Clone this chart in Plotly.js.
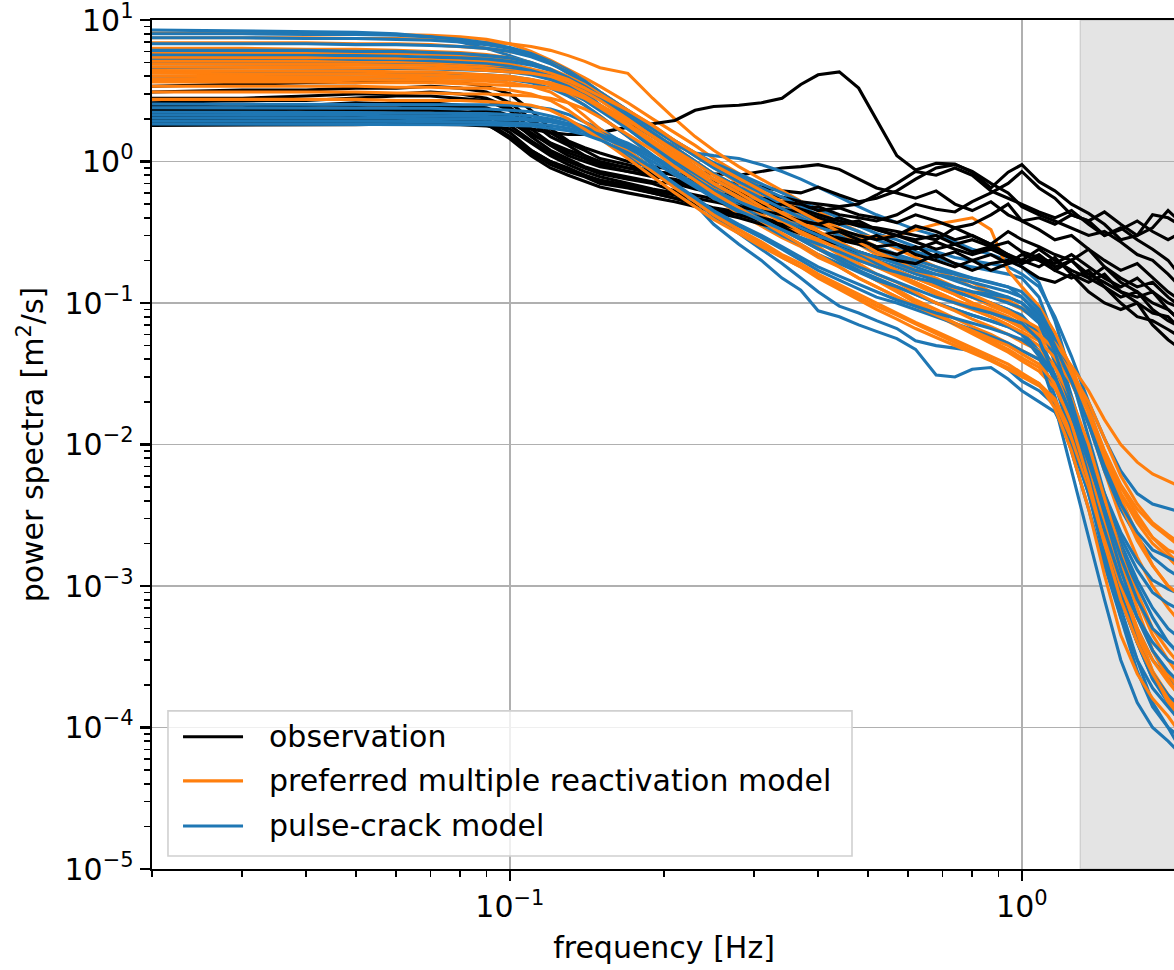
<!DOCTYPE html>
<html>
<head>
<meta charset="utf-8">
<script src="https://cdn.plot.ly/plotly-3.0.1.min.js"></script>
<style>
  html, body { margin: 0; padding: 0; background: #ffffff; overflow: hidden; }
  #chart { width: 1180px; height: 970px; }
</style>
</head>
<body>
<div id="chart"></div>
<script>
// ---------------- DATA ----------------
// frequency grid [Hz]
const freq = [0.02,0.03,0.04,0.05,0.06,0.07,0.08,0.09,
  0.1,0.11,0.12,0.13,0.14,0.15,0.17,0.19,
  0.21,0.23,0.25,0.28,0.31,0.34,0.37,0.4,
  0.44,0.48,0.52,0.57,0.62,0.68,0.74,0.8,
  0.87,0.94,1.0,1.08,1.16,1.25,1.35,1.45,
  1.56,1.68,1.8,1.93,2.0];

// observation power spectra [m^2/s]
const obs01 = [3.4,3.5,3.6,3.6,3.7,3.7,3.6,3.4, 3.0,2.3,1.7,1.4,1.25,1.15,1.0,0.92, 0.88,0.85,0.82,0.8,0.85,0.9,0.92,0.95, 0.88,0.75,0.65,0.6,0.55,0.62,0.5,0.45, 0.52,0.42,0.38,0.4,0.36,0.42,0.38,0.44, 0.36,0.3,0.34,0.45,0.4];
const obs02 = [3.1,3.2,3.2,3.3,3.3,3.4,3.3,3.1, 2.6,2.0,1.6,1.35,1.2,1.05,0.95,0.85, 0.82,0.78,0.72,0.7,0.66,0.62,0.6,0.66, 0.58,0.52,0.55,0.62,0.75,0.9,0.95,0.85, 0.7,0.6,0.48,0.42,0.38,0.34,0.3,0.32, 0.27,0.22,0.2,0.16,0.14];
const obs03 = [2.8,2.8,2.9,3.0,3.0,3.1,3.0,2.8, 2.4,1.9,1.5,1.3,1.1,0.98,0.9,0.86, 0.8,0.72,0.68,0.62,0.58,0.56,0.52,0.5, 0.48,0.5,0.58,0.7,0.85,0.8,0.9,0.8, 0.62,0.55,0.5,0.44,0.4,0.45,0.36,0.3, 0.33,0.38,0.32,0.28,0.3];
const obs04 = [2.6,2.7,2.7,2.8,2.9,2.9,2.8,2.7, 2.3,1.7,1.35,1.15,1.05,0.95,0.85,0.8, 0.74,0.7,0.65,0.58,0.55,0.5,0.46,0.48, 0.42,0.4,0.38,0.42,0.5,0.46,0.44,0.52, 0.6,0.7,0.85,0.65,0.55,0.42,0.38,0.3, 0.34,0.28,0.24,0.2,0.17];
const obs05 = [2.5,2.55,2.5,2.6,2.55,2.5,2.45,2.2, 1.85,1.7,1.6,1.55,1.55,1.6,1.75,1.85, 1.95,2.3,2.45,2.5,2.6,2.8,3.5,4.1, 4.3,3.3,2.0,1.1,0.87,0.97,0.96,0.84, 0.65,0.84,0.95,0.72,0.62,0.5,0.43,0.36, 0.28,0.3,0.42,0.4,0.37];
const obs06 = [2.4,2.4,2.5,2.5,2.6,2.6,2.5,2.4, 2.1,1.6,1.3,1.1,1.0,0.92,0.85,0.78, 0.75,0.68,0.62,0.6,0.55,0.52,0.5,0.45, 0.47,0.42,0.4,0.37,0.42,0.38,0.34,0.36, 0.42,0.5,0.38,0.33,0.28,0.3,0.24,0.2, 0.17,0.19,0.15,0.12,0.11];
const obs07 = [2.3,2.3,2.35,2.4,2.4,2.45,2.4,2.3, 2.0,1.5,1.2,1.05,0.92,0.85,0.78,0.72, 0.7,0.64,0.6,0.56,0.5,0.46,0.44,0.4, 0.36,0.38,0.33,0.3,0.35,0.32,0.28,0.3, 0.26,0.32,0.28,0.25,0.22,0.2,0.24,0.18, 0.15,0.13,0.14,0.11,0.1];
const obs08 = [2.2,2.2,2.25,2.3,2.3,2.3,2.25,2.2, 1.9,1.55,1.35,1.2,1.1,1.0,0.9,0.82, 0.72,0.66,0.6,0.52,0.48,0.5,0.46,0.42, 0.38,0.35,0.34,0.32,0.3,0.28,0.34,0.3, 0.26,0.22,0.2,0.24,0.2,0.17,0.15,0.18, 0.14,0.12,0.1,0.09,0.08];
const obs09 = [2.1,2.1,2.1,2.15,2.2,2.2,2.15,2.1, 1.8,1.4,1.15,1.0,0.9,0.82,0.75,0.7, 0.62,0.58,0.55,0.5,0.44,0.4,0.38,0.36, 0.33,0.3,0.28,0.3,0.27,0.24,0.26,0.23, 0.25,0.22,0.19,0.21,0.17,0.2,0.15,0.13, 0.11,0.12,0.09,0.075,0.07];
const obs10 = [2.0,2.0,2.0,2.05,2.1,2.1,2.05,2.0, 1.6,1.2,1.0,0.9,0.8,0.74,0.68,0.62, 0.58,0.52,0.47,0.44,0.4,0.37,0.34,0.3, 0.28,0.26,0.24,0.22,0.25,0.21,0.23,0.2, 0.22,0.19,0.2,0.18,0.21,0.16,0.14,0.16, 0.12,0.1,0.085,0.08,0.07];
const obs11 = [1.95,1.95,1.95,1.98,2.0,2.0,1.98,1.9, 1.5,1.15,0.95,0.85,0.78,0.7,0.65,0.6, 0.55,0.5,0.46,0.42,0.38,0.35,0.32,0.3, 0.32,0.28,0.25,0.26,0.22,0.2,0.18,0.2, 0.17,0.19,0.22,0.2,0.17,0.15,0.17,0.13, 0.1,0.08,0.075,0.065,0.06];
const obs12 = [1.9,1.9,1.9,1.9,1.92,1.92,1.9,1.85, 1.45,1.1,0.9,0.8,0.72,0.66,0.6,0.56, 0.52,0.48,0.44,0.4,0.36,0.34,0.31,0.28, 0.26,0.23,0.21,0.2,0.19,0.22,0.19,0.17, 0.19,0.2,0.18,0.15,0.14,0.16,0.12,0.1, 0.09,0.1,0.07,0.055,0.05];
const obs13 = [1.85,1.85,1.85,1.86,1.88,1.88,1.86,1.82, 1.5,1.2,1.0,0.88,0.8,0.72,0.66,0.6, 0.55,0.5,0.45,0.42,0.38,0.36,0.33,0.31, 0.29,0.27,0.3,0.26,0.24,0.27,0.24,0.22, 0.24,0.21,0.19,0.22,0.18,0.2,0.16,0.14, 0.12,0.11,0.12,0.09,0.08];
const obs14 = [1.8,1.8,1.8,1.82,1.84,1.84,1.82,1.78, 1.7,1.35,1.1,0.95,0.85,0.78,0.7,0.64, 0.6,0.55,0.52,0.48,0.45,0.42,0.38,0.36, 0.4,0.36,0.33,0.3,0.28,0.3,0.26,0.28, 0.25,0.27,0.23,0.21,0.19,0.22,0.18,0.15, 0.13,0.15,0.12,0.1,0.095];

// preferred multiple reactivation model
const pref01 = [8.1,8.1,8.0,8.0,7.9,7.8,7.6,7.3, 6.8,6.0,5.2,4.5,3.9,3.4,2.6,2.0, 1.6,1.3,1.05,0.82,0.66,0.55,0.47,0.4, 0.34,0.29,0.25,0.22,0.19,0.17,0.15,0.13, 0.115,0.1,0.09,0.075,0.05,0.028,0.014,0.0065, 0.003,0.0016,0.001,0.0007,0.0006];
const pref02 = [7.5,7.5,7.5,7.4,7.4,7.3,7.1,6.9, 6.8,6.5,6.1,5.6,5.1,4.6,4.2,2.8, 2.0,1.5,1.2,0.92,0.75,0.62,0.52,0.45, 0.37,0.32,0.28,0.24,0.21,0.18,0.16,0.14, 0.12,0.105,0.092,0.078,0.058,0.035,0.018,0.009, 0.005,0.0032,0.0022,0.0017,0.0015];
const pref03 = [6.9,6.9,6.9,6.8,6.8,6.7,6.5,6.3, 6.0,5.6,5.0,4.3,3.7,3.1,2.3,1.75, 1.35,1.1,0.9,0.7,0.57,0.48,0.41,0.35, 0.3,0.26,0.22,0.19,0.165,0.145,0.125,0.11, 0.095,0.085,0.075,0.064,0.05,0.032,0.017,0.0085, 0.0045,0.003,0.0022,0.0018,0.0017];
const pref04 = [6.3,6.3,6.2,6.2,6.1,6.0,5.9,5.7, 5.4,5.0,4.5,3.9,3.3,2.8,2.1,1.6, 1.25,1.0,0.8,0.62,0.5,0.42,0.36,0.31, 0.26,0.22,0.19,0.16,0.14,0.12,0.105,0.092, 0.08,0.07,0.06,0.05,0.036,0.02,0.009,0.004, 0.0018,0.0009,0.0005,0.00035,0.0003];
const pref05 = [5.9,5.9,5.9,5.8,5.8,5.7,5.6,5.4, 5.2,4.9,4.5,4.0,3.5,3.0,2.3,1.8, 1.4,1.15,0.95,0.72,0.55,0.44,0.38,0.34, 0.32,0.3,0.29,0.3,0.33,0.36,0.38,0.4, 0.33,0.17,0.13,0.095,0.062,0.034,0.017,0.0085, 0.0045,0.0028,0.002,0.0016,0.0014];
const pref06 = [5.65,5.6,5.6,5.5,5.5,5.4,5.3,5.1, 4.9,4.5,4.0,3.4,2.9,2.4,1.8,1.35, 1.05,0.85,0.68,0.52,0.42,0.35,0.29,0.25, 0.2,0.17,0.145,0.125,0.105,0.09,0.078,0.068, 0.06,0.052,0.046,0.04,0.031,0.018,0.008,0.0035, 0.0015,0.0007,0.00035,0.00022,0.00018];
const pref07 = [5.4,5.4,5.4,5.3,5.3,5.2,5.1,4.9, 4.7,4.5,4.2,3.8,3.3,2.8,2.1,1.6, 1.25,1.0,0.82,0.64,0.52,0.43,0.37,0.32, 0.27,0.23,0.2,0.17,0.15,0.13,0.115,0.1, 0.088,0.078,0.068,0.058,0.046,0.03,0.017,0.0085, 0.0042,0.0023,0.0014,0.001,0.0009];
const pref08 = [5.1,5.1,5.1,5.0,5.0,4.9,4.8,4.7, 4.5,4.2,3.8,3.3,2.8,2.4,1.75,1.3, 1.0,0.8,0.64,0.5,0.4,0.33,0.28,0.24, 0.2,0.17,0.145,0.12,0.1,0.085,0.072,0.062, 0.054,0.047,0.041,0.035,0.026,0.015,0.0068,0.0028, 0.0011,0.0005,0.00025,0.00015,0.00012];
const pref09 = [4.9,4.9,4.9,4.85,4.8,4.8,4.7,4.6, 4.4,4.2,3.9,3.5,3.1,2.7,2.0,1.5, 1.15,0.92,0.75,0.6,0.48,0.4,0.34,0.29, 0.25,0.21,0.18,0.16,0.14,0.12,0.105,0.095, 0.085,0.075,0.066,0.057,0.045,0.03,0.017,0.009, 0.0052,0.0035,0.0027,0.0022,0.002];
const pref10 = [4.65,4.65,4.6,4.6,4.6,4.55,4.5,4.4, 4.3,4.2,4.0,3.7,3.3,2.9,2.3,1.8, 1.4,1.15,0.95,0.76,0.62,0.52,0.44,0.38, 0.32,0.27,0.23,0.2,0.17,0.15,0.13,0.115, 0.1,0.088,0.077,0.066,0.052,0.036,0.024,0.015, 0.01,0.0075,0.0062,0.0055,0.0052];
const pref11 = [4.4,4.4,4.4,4.35,4.3,4.3,4.2,4.1, 4.0,3.8,3.5,3.0,2.5,2.1,1.5,1.1, 0.85,0.68,0.55,0.43,0.35,0.29,0.25,0.21, 0.18,0.15,0.13,0.11,0.095,0.082,0.07,0.06, 0.052,0.045,0.039,0.033,0.025,0.015,0.007,0.003, 0.0013,0.0006,0.00035,0.00024,0.0002];
const pref12 = [4.2,4.2,4.2,4.15,4.1,4.1,4.0,4.0, 3.9,3.8,3.6,3.3,2.9,2.5,1.85,1.4, 1.1,0.88,0.7,0.55,0.45,0.37,0.31,0.27, 0.22,0.19,0.16,0.14,0.12,0.1,0.088,0.077, 0.068,0.06,0.053,0.046,0.035,0.021,0.01,0.0042, 0.0017,0.0008,0.00045,0.0003,0.00025];
const pref13 = [4.0,4.0,4.0,3.95,3.95,3.9,3.9,3.85, 3.8,3.7,3.5,3.2,2.8,2.4,1.8,1.35, 1.05,0.85,0.7,0.56,0.46,0.38,0.32,0.28, 0.24,0.2,0.18,0.155,0.135,0.115,0.1,0.09, 0.08,0.07,0.062,0.054,0.041,0.027,0.015,0.0075, 0.0038,0.0021,0.0014,0.001,0.0009];
const pref14 = [3.8,3.8,3.8,3.8,3.75,3.75,3.7,3.7, 3.6,3.4,3.1,2.6,2.1,1.7,1.2,0.88, 0.66,0.52,0.42,0.33,0.26,0.21,0.18,0.15, 0.125,0.105,0.09,0.077,0.066,0.057,0.05,0.044, 0.039,0.034,0.03,0.026,0.02,0.011,0.005,0.002, 0.0009,0.00045,0.00025,0.00017,0.00014];
const pref15 = [3.65,3.65,3.65,3.6,3.6,3.6,3.55,3.5, 3.45,3.4,3.3,3.1,2.8,2.5,1.95,1.5, 1.2,0.98,0.8,0.64,0.52,0.43,0.37,0.32, 0.27,0.23,0.2,0.17,0.15,0.13,0.115,0.1, 0.09,0.08,0.07,0.06,0.047,0.032,0.02,0.011, 0.006,0.0038,0.0028,0.0023,0.0021];
const pref16 = [3.4,3.4,3.4,3.4,3.35,3.35,3.3,3.3, 3.2,3.0,2.7,2.3,1.9,1.6,1.15,0.85, 0.65,0.52,0.42,0.33,0.27,0.22,0.19,0.16, 0.135,0.115,0.1,0.085,0.073,0.063,0.055,0.048, 0.042,0.037,0.032,0.027,0.021,0.012,0.0055,0.0023, 0.001,0.0005,0.0003,0.00021,0.00018];
const pref17 = [3.1,3.1,3.1,3.1,3.05,3.05,3.0,3.0, 2.95,2.9,2.8,2.6,2.35,2.05,1.55,1.2, 0.92,0.74,0.6,0.47,0.38,0.31,0.26,0.22, 0.18,0.15,0.13,0.11,0.095,0.082,0.072,0.063, 0.056,0.05,0.044,0.037,0.027,0.014,0.0055,0.002, 0.0008,0.0004,0.00024,0.00016,0.00013];
const pref18 = [2.75,2.75,2.75,2.75,2.7,2.7,2.7,2.65, 2.6,2.5,2.3,2.0,1.7,1.45,1.05,0.78, 0.6,0.48,0.39,0.31,0.25,0.21,0.18,0.155, 0.13,0.11,0.095,0.082,0.071,0.061,0.053,0.046, 0.04,0.035,0.031,0.027,0.018,0.009,0.0035,0.0012, 0.00045,0.00024,0.00016,0.00012,0.0001];

// pulse-crack model
const pulse01 = [8.5,8.4,8.3,8.2,8.0,7.6,7.0,6.3, 5.6,5.0,4.4,3.7,3.1,2.5,1.9,1.5, 1.3,1.15,1.1,1.05,0.95,0.85,0.75,0.66, 0.56,0.48,0.42,0.37,0.33,0.3,0.27,0.24, 0.22,0.2,0.18,0.14,0.075,0.03,0.011,0.0045, 0.002,0.0011,0.0007,0.0005,0.00045];
const pulse02 = [8.0,8.0,7.9,7.9,7.8,7.6,7.3,6.9, 6.4,5.8,5.1,4.4,3.7,3.1,2.3,1.75, 1.4,1.15,0.98,0.82,0.7,0.6,0.52,0.46, 0.4,0.35,0.31,0.28,0.25,0.23,0.21,0.2, 0.19,0.18,0.16,0.13,0.08,0.042,0.02,0.011, 0.0065,0.0045,0.0038,0.0035,0.0034];
const pulse03 = [7.5,7.5,7.4,7.4,7.3,7.2,7.0,6.7, 6.3,5.7,5.0,4.2,3.5,2.9,2.1,1.6, 1.25,1.0,0.82,0.66,0.55,0.46,0.4,0.35, 0.3,0.26,0.23,0.2,0.18,0.16,0.145,0.13, 0.12,0.11,0.1,0.075,0.038,0.014,0.005,0.002, 0.0008,0.0004,0.00022,0.00015,0.00012];
const pulse04 = [6.8,6.8,6.8,6.7,6.7,6.6,6.5,6.3, 6.0,5.5,4.9,4.3,3.7,3.1,2.3,1.75, 1.4,1.15,0.95,0.78,0.65,0.56,0.48,0.42, 0.36,0.32,0.28,0.25,0.23,0.21,0.19,0.18, 0.17,0.16,0.15,0.11,0.055,0.022,0.009,0.0042, 0.0022,0.0013,0.0009,0.00075,0.0007];
const pulse05 = [6.1,6.1,6.1,6.0,6.0,5.9,5.8,5.6, 5.4,5.0,4.5,3.9,3.3,2.8,2.0,1.5, 1.15,0.92,0.75,0.6,0.49,0.41,0.35,0.3, 0.26,0.22,0.19,0.17,0.15,0.135,0.12,0.11, 0.1,0.09,0.08,0.056,0.027,0.011,0.0045,0.002, 0.0009,0.0005,0.0003,0.00022,0.0002];
const pulse06 = [5.65,5.65,5.6,5.6,5.55,5.5,5.4,5.3, 5.1,4.8,4.4,3.9,3.4,2.9,2.2,1.7, 1.35,1.1,0.9,0.72,0.6,0.5,0.43,0.37, 0.32,0.28,0.25,0.22,0.2,0.18,0.165,0.15, 0.14,0.13,0.12,0.09,0.055,0.03,0.014,0.0065, 0.0035,0.0022,0.0016,0.0013,0.0012];
const pulse07 = [5.2,5.2,5.2,5.15,5.1,5.1,5.0,4.9, 4.7,4.4,4.0,3.5,3.0,2.5,1.8,1.35, 1.05,0.85,0.7,0.56,0.46,0.39,0.33,0.29, 0.25,0.22,0.19,0.17,0.15,0.135,0.12,0.11, 0.1,0.09,0.082,0.06,0.031,0.012,0.0048,0.002, 0.0008,0.0004,0.00022,0.00016,0.00014];
const pulse08 = [4.9,4.9,4.9,4.85,4.85,4.8,4.7,4.6, 4.5,4.3,4.0,3.6,3.2,2.8,2.1,1.6, 1.25,1.0,0.82,0.66,0.55,0.46,0.4,0.35, 0.3,0.26,0.23,0.21,0.19,0.17,0.16,0.15, 0.14,0.13,0.11,0.082,0.042,0.019,0.009,0.0045, 0.0024,0.0015,0.0011,0.00095,0.0009];
const pulse09 = [4.6,4.6,4.6,4.55,4.55,4.5,4.45,4.4, 4.3,4.1,3.8,3.4,2.9,2.4,1.7,1.25, 0.95,0.76,0.62,0.49,0.4,0.33,0.28,0.24, 0.2,0.17,0.15,0.13,0.115,0.1,0.09,0.082, 0.075,0.068,0.062,0.046,0.022,0.009,0.0035,0.0014, 0.0006,0.0003,0.00019,0.00014,0.00012];
const pulse10 = [4.3,4.3,4.3,4.25,4.25,4.2,4.15,4.1, 4.0,3.8,3.5,3.1,2.7,2.3,1.7,1.3, 1.0,0.82,0.68,0.55,0.45,0.38,0.33,0.29, 0.25,0.22,0.2,0.18,0.16,0.145,0.13,0.12, 0.11,0.1,0.092,0.072,0.04,0.018,0.008,0.0037, 0.0018,0.001,0.0006,0.0004,0.00035];
const pulse11 = [4.0,4.0,4.0,3.95,3.95,3.9,3.9,3.85, 3.8,3.6,3.3,2.9,2.5,2.1,1.5,1.1, 0.85,0.68,0.55,0.44,0.36,0.3,0.26,0.22, 0.19,0.165,0.145,0.13,0.115,0.1,0.09,0.082, 0.075,0.068,0.06,0.042,0.019,0.0065,0.0022,0.0008, 0.0003,0.00015,0.0001,0.00008,0.00007];
const pulse12 = [2.55,2.55,2.55,2.55,2.55,2.54,2.54,2.52, 2.5,2.45,2.35,2.15,1.9,1.7,1.3,0.95, 0.68,0.5,0.36,0.26,0.2,0.15,0.123,0.088, 0.08,0.07,0.063,0.056,0.047,0.031,0.03,0.034, 0.035,0.029,0.024,0.02,0.017,0.01,0.0045,0.0018, 0.0007,0.0003,0.00015,0.0001,0.00008];
const pulse13 = [2.4,2.4,2.4,2.4,2.38,2.38,2.35,2.35, 2.3,2.25,2.1,1.95,1.75,1.55,1.2,0.9, 0.68,0.52,0.41,0.31,0.24,0.19,0.15,0.12, 0.095,0.085,0.075,0.066,0.054,0.05,0.048,0.046, 0.04,0.034,0.028,0.024,0.019,0.011,0.0045,0.0016, 0.0006,0.00025,0.00014,0.0001,0.00009];
const pulse14 = [2.23,2.23,2.22,2.22,2.2,2.2,2.2,2.18, 2.15,2.1,2.0,1.85,1.65,1.45,1.1,0.85, 0.66,0.53,0.43,0.35,0.29,0.24,0.2,0.17, 0.145,0.125,0.11,0.1,0.09,0.08,0.072,0.065, 0.058,0.052,0.046,0.04,0.03,0.016,0.006,0.0022, 0.0009,0.0004,0.00024,0.00017,0.00015];
const pulse15 = [2.13,2.13,2.12,2.12,2.1,2.1,2.1,2.08, 2.05,2.0,1.95,1.85,1.75,1.6,1.35,1.1, 0.9,0.75,0.63,0.52,0.45,0.39,0.34,0.3, 0.26,0.23,0.21,0.19,0.17,0.16,0.15,0.14, 0.13,0.12,0.11,0.085,0.05,0.028,0.014,0.007, 0.0038,0.0024,0.0018,0.0016,0.0015];
const pulse16 = [2.03,2.03,2.03,2.02,2.02,2.0,2.0,2.0, 1.98,1.95,1.9,1.8,1.68,1.55,1.3,1.05, 0.85,0.7,0.58,0.47,0.39,0.33,0.28,0.24, 0.21,0.18,0.16,0.14,0.125,0.11,0.1,0.092, 0.085,0.078,0.072,0.055,0.03,0.013,0.0055,0.0024, 0.0011,0.0006,0.0004,0.0003,0.00028];
const pulse17 = [1.93,1.93,1.93,1.92,1.92,1.92,1.9,1.9, 1.88,1.85,1.8,1.72,1.62,1.5,1.25,1.0, 0.8,0.66,0.55,0.45,0.38,0.33,0.29,0.26, 0.23,0.2,0.18,0.165,0.15,0.14,0.13,0.12, 0.115,0.11,0.1,0.08,0.045,0.02,0.008,0.0032, 0.0013,0.0006,0.00035,0.00025,0.00022];
const pulse18 = [1.84,1.84,1.84,1.84,1.83,1.83,1.82,1.82, 1.8,1.78,1.72,1.65,1.55,1.42,1.15,0.9, 0.7,0.56,0.45,0.36,0.3,0.25,0.21,0.18, 0.155,0.135,0.12,0.105,0.095,0.085,0.078,0.072, 0.066,0.06,0.055,0.045,0.03,0.016,0.0075,0.0035, 0.0016,0.0008,0.0005,0.0004,0.00035];

// axis tick labels
const xTickVals = [0.1, 1];
const xTickText = ['10<sup>\u22121</sup>', '10<sup>0</sup>'];
const yTickVals = [1e-5, 1e-4, 1e-3, 1e-2, 1e-1, 1, 10];
const yTickText = ['10<sup>\u22125</sup>', '10<sup>\u22124</sup>', '10<sup>\u22123</sup>',
                   '10<sup>\u22122</sup>', '10<sup>\u22121</sup>', '10<sup>0</sup>', '10<sup>1</sup>'];

// legend labels
const legendLabels = ['observation', 'preferred multiple reactivation model', 'pulse-crack model'];
// start of grey band [Hz]
const bandStart = 1.3;

// ---------------- BUILD ----------------
const COL_OBS = '#000000', COL_PREF = '#ff7f0e', COL_PULSE = '#1f77b4';
const obsAll = [obs01,obs02,obs03,obs04,obs05,obs06,obs07,obs08,obs09,obs10,obs11,obs12,obs13,obs14];
const prefAll = [pref01,pref02,pref03,pref04,pref05,pref06,pref07,pref08,pref09,pref10,pref11,pref12,pref13,pref14,pref15,pref16,pref17,pref18];
const pulseAll = [pulse01,pulse02,pulse03,pulse04,pulse05,pulse06,pulse07,pulse08,pulse09,pulse10,pulse11,pulse12,pulse13,pulse14,pulse15,pulse16,pulse17,pulse18];

const LW = 3.1;
const traces = [];
const nMax = Math.max(obsAll.length, prefAll.length, pulseAll.length);
for (let i = 0; i < nMax; i++) {
  if (obsAll[i]) traces.push({x: freq, y: obsAll[i], type: 'scatter', mode: 'lines',
    line: {color: COL_OBS, width: LW}, name: legendLabels[0], showlegend: false, hoverinfo: 'skip'});
  if (prefAll[i]) traces.push({x: freq, y: prefAll[i], type: 'scatter', mode: 'lines',
    line: {color: COL_PREF, width: LW}, name: legendLabels[1], showlegend: false, hoverinfo: 'skip'});
  if (pulseAll[i]) traces.push({x: freq, y: pulseAll[i], type: 'scatter', mode: 'lines',
    line: {color: COL_PULSE, width: LW}, name: legendLabels[2], showlegend: false, hoverinfo: 'skip'});
}

const FONT = 'DejaVu Sans, Liberation Sans, sans-serif';
const xMin = 0.02, xMax = 2;
const xr = [Math.log10(xMin), Math.log10(xMax)];
const bandPaper = (Math.log10(bandStart) - xr[0]) / (xr[1] - xr[0]);

// manual legend geometry (paper coords)
const legBox = {x0: 0.0156, x1: 0.6836, y0: 0.0153, y1: 0.1863};
const legRows = [0.1557, 0.1038, 0.0507];
const legColors = [COL_OBS, COL_PREF, COL_PULSE];

const shapes = [
  {type: 'rect', xref: 'paper', yref: 'paper', x0: bandPaper, x1: 1.2, y0: 0, y1: 1,
   fillcolor: 'rgba(128,128,128,0.21)', line: {color: 'rgba(128,128,128,0.25)', width: 1.5}, layer: 'below'},
  {type: 'rect', xref: 'paper', yref: 'paper', x0: legBox.x0, x1: legBox.x1, y0: legBox.y0, y1: legBox.y1,
   fillcolor: 'rgba(255,255,255,0.8)', line: {color: '#d0d0d0', width: 1.6}, layer: 'above'}
];
const annotations = [];
legRows.forEach((yy, k) => {
  shapes.push({type: 'line', xref: 'paper', yref: 'paper', x0: 0.0303, x1: 0.0889, y0: yy, y1: yy,
    line: {color: legColors[k], width: LW}, layer: 'above'});
  annotations.push({xref: 'paper', yref: 'paper', x: 0.1123, y: yy, xanchor: 'left', yanchor: 'middle',
    text: legendLabels[k], showarrow: false, font: {family: FONT, size: 30, color: '#000'}});
});

const axisCommon = {
  type: 'log',
  tickmode: 'array',
  ticks: 'outside', ticklen: 10, tickwidth: 2.2, tickcolor: '#000',
  showline: true, linecolor: '#000', linewidth: 2.4, mirror: true,
  showgrid: true, gridcolor: '#b0b0b0', gridwidth: 1.8,
  zeroline: false,
  ticklabeloverflow: 'allow',
  tickfont: {family: FONT, size: 30, color: '#000'},
  minor: {ticks: 'outside', ticklen: 6, tickwidth: 1.7, tickcolor: '#000', dtick: 'D1', showgrid: false}
};

const layout = {
  width: 1180, height: 970,
  margin: {l: 152, r: 4, t: 20, b: 101, pad: 0},
  paper_bgcolor: '#ffffff', plot_bgcolor: '#ffffff',
  showlegend: false,
  font: {family: FONT, size: 30, color: '#000'},
  xaxis: Object.assign({}, axisCommon, {
    range: xr, tickvals: xTickVals, ticktext: xTickText,
    title: {text: 'frequency [Hz]', font: {family: FONT, size: 30, color: '#000'}, standoff: 14}
  }),
  yaxis: Object.assign({}, axisCommon, {
    range: [-5, 1.00001], tickvals: yTickVals, ticktext: yTickText,
    title: {text: 'power spectra [m<sup>2</sup>/s]', font: {family: FONT, size: 30, color: '#000'}, standoff: 12}
  }),
  shapes: shapes,
  annotations: annotations
};

Plotly.newPlot('chart', traces, layout, {displayModeBar: false, staticPlot: true});
</script>
</body>
</html>
